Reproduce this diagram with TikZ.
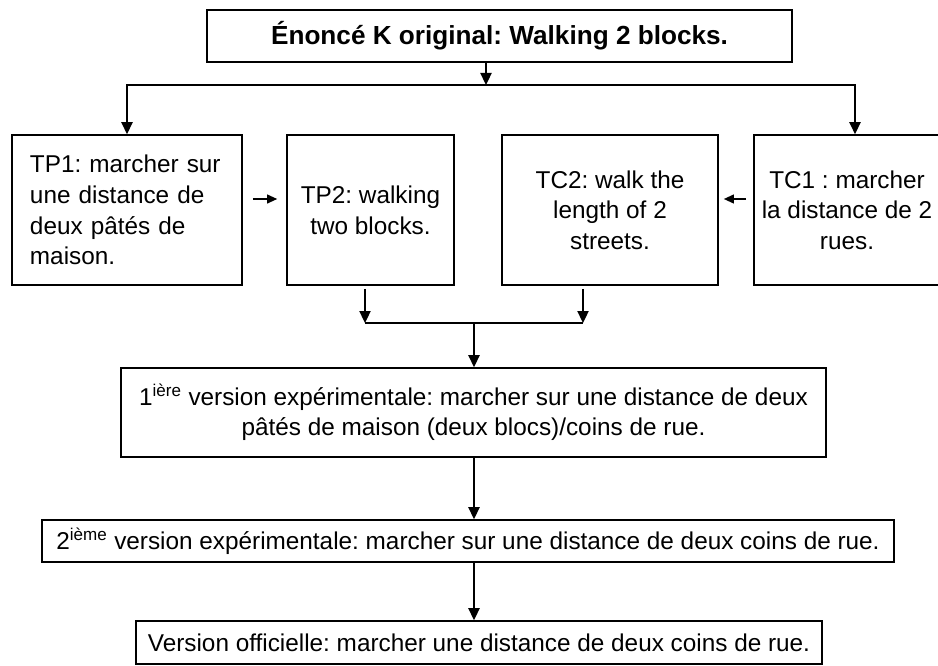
\documentclass[tikz,border=0pt]{standalone}
\usepackage{fontspec}
\setmainfont{Liberation Sans}
\usetikzlibrary{arrows.meta,positioning,calc}
\frenchspacing

\begin{document}
\begin{tikzpicture}[x=0.025cm,y=-0.025cm,>={Triangle[length=0.3cm,width=0.28cm]},
  box/.style={draw,line width=1.1pt,inner sep=0pt,align=center,
    font=\fontsize{17.3}{21.8}\selectfont},
  arr/.style={->,line width=1.1pt},
  small/.style={-{Triangle[length=0.25cm,width=0.22cm]},line width=1.1pt}]
\useasboundingbox (0,0) rectangle (938,665);
\node[box,line width=2pt,minimum width=14.625cm,minimum height=1.3cm,
  font=\fontsize{18.6}{22}\selectfont\bfseries] (k) at (499.5,36)
  {Énoncé K original: Walking 2 blocks.};
\node[box,align=left,text width=4.85cm,inner xsep=0.45cm,minimum height=3.75cm] (tp1) at (127,210)
  {TP1: marcher sur\\une distance de\\deux pâtés de\\maison.};
\node[box,minimum width=4.175cm,minimum height=3.75cm] (tp2) at (370.5,210)
  {TP2: walking\\two blocks.};
\node[box,minimum width=5.4cm,minimum height=3.75cm] (tc2) at (610,210)
  {TC2: walk the\\length of 2\\streets.};
\node[box,minimum width=4.65cm,minimum height=3.75cm] (tc1) at (847,210)
  {TC1 : marcher\\la distance de 2\\rues.};
\node[box,minimum width=17.625cm,minimum height=2.225cm] (v1) at (473.5,412.5)
  {1\textsuperscript{ière} version expérimentale: marcher sur une distance de deux\\
   pâtés de maison (deux blocs)/coins de rue.};
\node[box,minimum width=21.3cm,minimum height=1.05cm] (v2) at (468,541)
  {2\textsuperscript{ième} version expérimentale: marcher sur une distance de deux coins de rue.};
\node[box,minimum width=17.15cm,minimum height=1.075cm] (v3) at (479,642.5)
  {Version officielle: marcher une distance de deux coins de rue.};
% split and join points
\coordinate (split) at (486,85);
\coordinate (jl) at (365,323);
\coordinate (jr) at (583,323);
\coordinate (join) at (474,323);
\draw[arr] (k.south -| split) -- (split);
\draw[arr] (split) -| (tp1.north);
\draw[arr] (split) -| ($(tc1.north)+(8,0)$);
\draw[small] ($(tp1.east)+(10,-11)$) -- ($(tp2.west)+(-9,-11)$);
\draw[small] ($(tc1.west)+(-7,-11)$) -- ($(tc2.east)+(5,-11)$);
\draw[arr,shorten <=0.075cm] (tp2.south -| jl) -- (jl);
\draw[arr,shorten <=0.075cm] (tc2.south -| jr) -- (jr);
\draw[line width=1.1pt] (jl) -- (jr);
\draw[arr] (join) -- (v1.north -| join);
\draw[arr] (v1.south -| join) -- (v2.north -| join);
\draw[arr] (v2.south -| join) -- (v3.north -| join);
\end{tikzpicture}
\end{document}
